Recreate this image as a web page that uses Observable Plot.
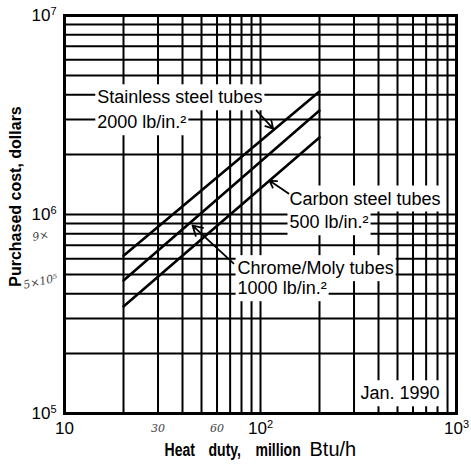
<!DOCTYPE html>
<html><head><meta charset="utf-8">
<script src="https://cdn.jsdelivr.net/npm/d3@7"></script>
<script src="https://cdn.jsdelivr.net/npm/@observablehq/plot@0.6"></script>
<style>
html,body{margin:0;padding:0;background:#fff;}
</style>
</head><body>
<div id="chart"></div>
<script>
// ---- data ----
const heatDuty = [20, 200];                 // million Btu/h
const stainlessCost = [6.2e5, 4.15e6];      // dollars
const chromeMolyCost = [4.66e5, 3.33e6];
const carbonCost = [3.45e5, 2.44e6];
const seriesNames = ["Stainless steel tubes", "Chrome/Moly tubes", "Carbon steel tubes"];

const xTicks = [10, 100, 1000];
const xTickLabels = ["10", "10²", "10³"];
const yTicks = [1e5, 1e6, 1e7];
const yTickLabels = ["10⁵", "10⁶", "10⁷"];
const xGrid = [20,30,40,50,60,70,80,90,100,200,300,400,500,600,700,800,900];
const yGrid = [2e5,3e5,4e5,5e5,6e5,7e5,8e5,9e5,1e6,2e6,3e6,4e6,5e6,6e6,7e6,8e6,9e6];

const labelText = ["Stainless steel tubes", "2000 lb/in.²", "Carbon steel tubes", "500 lb/in.²", "Chrome/Moly tubes", "1000 lb/in.²", "Jan. 1990"];
const labelX = [14.7, 14.7, 140.6, 140.6, 76.4, 76.4, 324];
const labelY = [3.87e6, 2.9e6, 1.2e6, 9.12e5, 5.36e5, 4.25e5, 1.26e5];

const arrowFromX = [95.5, 139, 72.8];
const arrowFromY = [3.33e6, 1.275e6, 5.68e5];
const arrowToX = [116, 111, 45];
const arrowToY = [2.70e6, 1.48e6, 8.8e5];

const noteText = ["30", "60"];
const noteX = [30, 60];
const sideNoteText = ["9×", "5×10⁵"];
const sideNoteY = [7.8e5, 4.6e5];

const yLabel = "Purchased cost, dollars";
const xLabelWords = ["Heat", "duty,", "million"];
const xLabelUnit = "Btu/h";

// ---- tables built from arrays ----
const seriesCosts = [stainlessCost, chromeMolyCost, carbonCost];
const lineTable = seriesNames.flatMap((s, i) => heatDuty.map((d, j) => ({series: s, duty: d, cost: seriesCosts[i][j]})));
const labels = labelText.map((t, i) => ({text: t, x: labelX[i], y: labelY[i]}));
const arrows = arrowFromX.map((_, i) => ({x1: arrowFromX[i], y1: arrowFromY[i], x2: arrowToX[i], y2: arrowToY[i]}));
const notes = noteText.map((t, i) => ({text: t, x: noteX[i], y: 1e5}));
const sideNotes = sideNoteText.map((t, i) => ({text: t, y: sideNoteY[i]}));

const font = "'Liberation Sans', Arial, Helvetica, sans-serif";
const narrow = {frameAnchor: "bottom", textAnchor: "start", dy: 42, fontWeight: "bold", fontSize: 18, ariaDescription: "narrow"};

const chart = Plot.plot({
  width: 471,
  height: 470,
  marginLeft: 64,
  marginRight: 15,
  marginTop: 15,
  marginBottom: 57,
  style: {fontFamily: font, fontSize: "16px", color: "black", background: "white"},
  x: {type: "log", domain: [10, 1000]},
  y: {type: "log", domain: [1e5, 1e7]},
  marks: [
    Plot.ruleX(xGrid, {stroke: "black", strokeWidth: 2}),
    Plot.ruleY(yGrid, {stroke: "black", strokeWidth: 2}),
    Plot.axisX({ticks: xTicks, tickFormat: d => xTickLabels[xTicks.indexOf(d)], tickSize: 0, tickPadding: 8, fontSize: 17, label: null, ariaDescription: "sup"}),
    Plot.axisY({ticks: yTicks, tickFormat: d => yTickLabels[yTicks.indexOf(d)], tickSize: 0, tickPadding: 8, fontSize: 17, label: null, ariaDescription: "sup"}),
    Plot.text(labels, {x: "x", y: "y", text: "text", textAnchor: "start", fontSize: 18, fill: "black", ariaDescription: "boxed"}),
    Plot.line(lineTable, {x: "duty", y: "cost", z: "series", stroke: "black", strokeWidth: 2.6}),
    Plot.arrow(arrows, {x1: "x1", y1: "y1", x2: "x2", y2: "y2", stroke: "black", strokeWidth: 1.8, headLength: 9}),
    Plot.frame({stroke: "black", strokeWidth: 3}),
    Plot.text([yLabel], {text: d => d, frameAnchor: "left", textAnchor: "middle", rotate: -90, dx: -49, dy: -18, fontWeight: "bold", fontSize: 16}),
    Plot.text([xLabelWords[0]], {...narrow, text: d => d, dx: -96}),
    Plot.text([xLabelWords[1]], {...narrow, text: d => d, dx: -52}),
    Plot.text([xLabelWords[2]], {...narrow, text: d => d, dx: -5}),
    Plot.text([xLabelUnit], {text: d => d, frameAnchor: "bottom", textAnchor: "start", dx: 49, dy: 42, fontSize: 20}),
    Plot.text(notes, {x: "x", y: "y", text: "text", dy: 15, fontSize: 11, fontStyle: "italic", fill: "#444", fontFamily: "'DejaVu Serif', serif"}),
    Plot.text(sideNotes, {y: "y", text: "text", frameAnchor: "left", textAnchor: "middle", dx: -24, rotate: -12, fontSize: 11, fontStyle: "italic", fill: "#444", fontFamily: "'DejaVu Serif', serif"})
  ]
});

document.getElementById("chart").append(chart);

const svgNS = "http://www.w3.org/2000/svg";
// white boxes behind the curve labels (they interrupt the grid, as in the original)
chart.querySelectorAll('g[aria-description="boxed"] text').forEach(t => {
  const b = t.getBBox();
  const r = document.createElementNS(svgNS, "rect");
  r.setAttribute("x", b.x - 2);
  r.setAttribute("y", b.y - 3);
  r.setAttribute("width", b.width + 4);
  r.setAttribute("height", b.height + 6);
  r.setAttribute("fill", "white");
  const tr = t.getAttribute("transform");
  if (tr) r.setAttribute("transform", tr);
  t.parentNode.insertBefore(r, t.parentNode.firstChild);
});
// condensed bold words of the x-axis title
chart.querySelectorAll('g[aria-description="narrow"] text').forEach(t => {
  const w = t.getComputedTextLength();
  t.setAttribute("textLength", (w * 0.78).toFixed(1));
  t.setAttribute("lengthAdjust", "spacingAndGlyphs");
});
// exponent digits as raised smaller text
const supChars = "⁰¹²³⁴⁵⁶⁷⁸⁹";
chart.querySelectorAll('g[aria-description="sup"] text').forEach(t => {
  const s = t.textContent;
  const i = [...s].findIndex(c => supChars.includes(c));
  if (i < 0) return;
  const chars = [...s];
  const base = chars.slice(0, i).join("");
  const exp = chars.slice(i).map(c => supChars.indexOf(c)).join("");
  t.textContent = base;
  const ts = document.createElementNS(svgNS, "tspan");
  ts.setAttribute("dy", "-0.55em");
  ts.setAttribute("font-size", "11");
  ts.textContent = exp;
  t.appendChild(ts);
});
</script>
</body></html>
